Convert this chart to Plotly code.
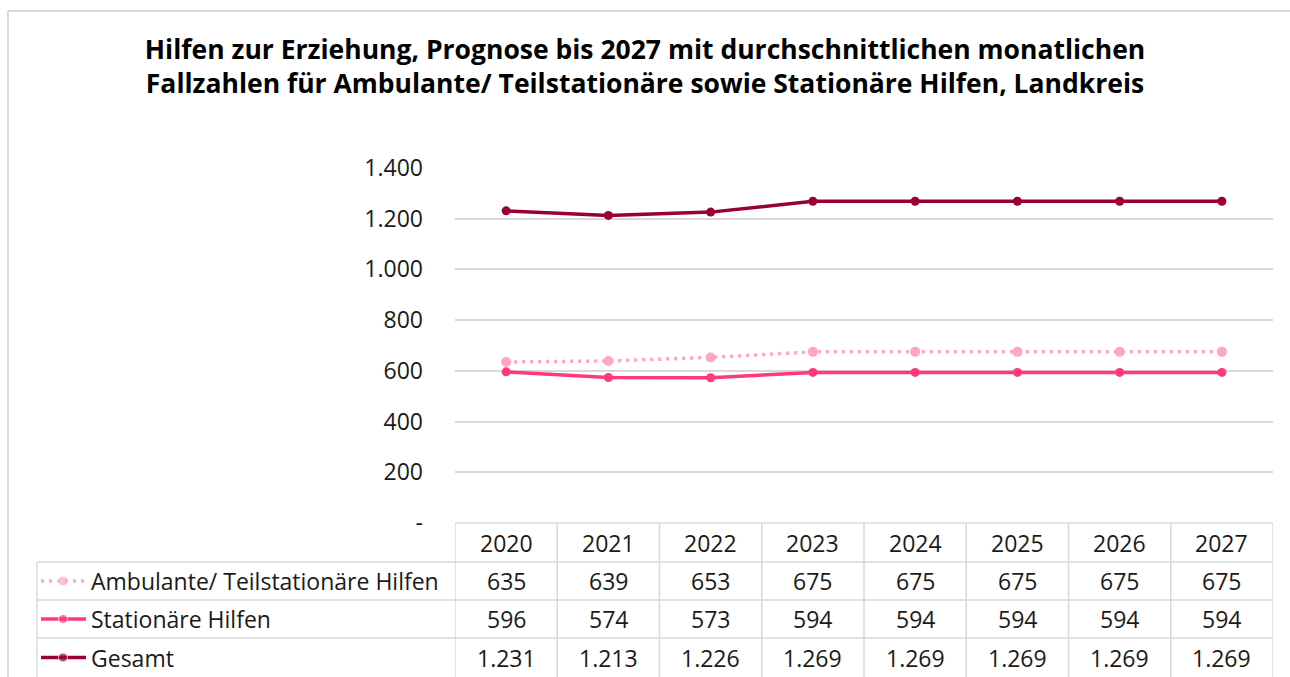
import plotly.graph_objects as go

# ---------------- data ----------------
years = ["2020", "2021", "2022", "2023", "2024", "2025", "2026", "2027"]
ambulante = [635, 639, 653, 675, 675, 675, 675, 675]
stationaer = [596, 574, 573, 594, 594, 594, 594, 594]
gesamt = [1231, 1213, 1226, 1269, 1269, 1269, 1269, 1269]
series_names = ["Ambulante/ Teilstationäre Hilfen", "Stationäre Hilfen", "Gesamt"]
y_tickvals = [0, 200, 400, 600, 800, 1000, 1200, 1400]
y_ticktext = ["-", "200", "400", "600", "800", "1.000", "1.200", "1.400"]
title_lines = ["Hilfen zur Erziehung, Prognose bis 2027 mit durchschnittlichen monatlichen",
               "Fallzahlen für Ambulante/ Teilstationäre sowie Stationäre Hilfen, Landkreis"]

# ---------------- layout constants ----------------
W, H = 1290, 677
FONT = "Open Sans"
GRID = "#D9D9D9"
TXT = "#1a1a1a"
FS = 23
PLOT_L, PLOT_R, PLOT_T, PLOT_B = 455, 1273, 168, 523
TABLE_ROWS = [523, 562, 600, 638, 677]  # horizontal boundaries (px)
LEGEND_L = 37
FRAME_X, FRAME_Y = 8, 11

styles = [
    dict(color="#FFA6C4", dash="3px,5px", msize=10, width=3.5),
    dict(color="#FF3A7C", dash="solid", msize=9, width=3.5),
    dict(color="#990033", dash="solid", msize=9, width=3.5),
]
values = [ambulante, stationaer, gesamt]


def fmt(v):
    return f"{v:,}".replace(",", ".")


fig = go.Figure()

# main lines
for name, vals, st in zip(series_names, values, styles):
    fig.add_trace(go.Scatter(
        x=years, y=vals, name=name, mode="lines+markers",
        line=dict(color=st["color"], width=st["width"], dash=st["dash"]),
        marker=dict(color=st["color"], size=st["msize"]),
        xaxis="x", yaxis="y", showlegend=False, cliponaxis=False,
    ))

# legend keys in the data table (pixel overlay axes)
for i, st in enumerate(styles):
    rc = (TABLE_ROWS[i + 1] + TABLE_ROWS[i + 2]) / 2
    fig.add_trace(go.Scatter(
        x=[41, 63, 86], y=[rc, rc, rc], mode="lines+markers",
        line=dict(color=st["color"], width=st["width"], dash=st["dash"]),
        marker=dict(color=st["color"], size=[0, st["msize"], 0]),
        xaxis="x2", yaxis="y2", showlegend=False, hoverinfo="skip",
    ))

shapes = []
# table vertical lines
for k in range(len(years) + 1):
    shapes.append(dict(type="line", xref="x", yref="y2", x0=k - 0.5, x1=k - 0.5,
                       y0=TABLE_ROWS[0], y1=TABLE_ROWS[-1], line=dict(color=GRID, width=1.5)))
# legend column left border
shapes.append(dict(type="line", xref="x2", yref="y2", x0=LEGEND_L, x1=LEGEND_L,
                   y0=TABLE_ROWS[1], y1=TABLE_ROWS[-1], line=dict(color=GRID, width=1.5)))
# table horizontal lines
shapes.append(dict(type="line", xref="x2", yref="y2", x0=PLOT_L, x1=PLOT_R,
                   y0=TABLE_ROWS[0], y1=TABLE_ROWS[0], line=dict(color=GRID, width=1.5)))
for r in TABLE_ROWS[1:-1]:
    shapes.append(dict(type="line", xref="x2", yref="y2", x0=LEGEND_L, x1=PLOT_R,
                       y0=r, y1=r, line=dict(color=GRID, width=1.5)))
# chart area frame (top + left)
shapes.append(dict(type="line", xref="x2", yref="y2", x0=FRAME_X, x1=W, y0=FRAME_Y, y1=FRAME_Y,
                   line=dict(color=GRID, width=2)))
shapes.append(dict(type="line", xref="x2", yref="y2", x0=FRAME_X, x1=FRAME_X, y0=FRAME_Y, y1=H,
                   line=dict(color=GRID, width=2)))

annotations = []
# header years
hc = (TABLE_ROWS[0] + TABLE_ROWS[1]) / 2
for j, yr in enumerate(years):
    annotations.append(dict(x=j, y=hc, xref="x", yref="y2", text=yr, showarrow=False,
                            font=dict(size=FS, color=TXT, family=FONT)))
# rows
for i, (name, vals) in enumerate(zip(series_names, values)):
    rc = (TABLE_ROWS[i + 1] + TABLE_ROWS[i + 2]) / 2
    annotations.append(dict(x=89, y=rc, xref="x2", yref="y2", text=name, showarrow=False,
                            xanchor="left", font=dict(size=FS, color=TXT, family=FONT)))
    for j, v in enumerate(vals):
        annotations.append(dict(x=j, y=rc, xref="x", yref="y2", text=fmt(v), showarrow=False,
                                font=dict(size=FS, color=TXT, family=FONT)))

fig.update_layout(
    width=W, height=H, autosize=False,
    margin=dict(l=0, r=0, t=0, b=0, pad=0),
    paper_bgcolor="white", plot_bgcolor="rgba(0,0,0,0)",
    title=dict(text="<b>" + "<br>".join(title_lines) + "</b>",
               x=0.5, xanchor="center", y=1 - 59 / H, yanchor="middle",
               font=dict(family=FONT, size=26.5, color="#000")),
    xaxis=dict(domain=[PLOT_L / W, PLOT_R / W], type="category", range=[-0.5, len(years) - 0.5],
               showgrid=False, showticklabels=False, showline=False, zeroline=False,
               fixedrange=True, automargin=False),
    yaxis=dict(domain=[1 - PLOT_B / H, 1 - PLOT_T / H], range=[0, 1400],
               tickvals=y_tickvals, ticktext=y_ticktext, showgrid=True, gridcolor=GRID,
               gridwidth=1.5, zeroline=False, showline=False, ticks="", automargin=False,
               ticklabelstandoff=31, tickfont=dict(family=FONT, size=FS, color=TXT),
               fixedrange=True),
    xaxis2=dict(domain=[0, 1], range=[0, W], visible=False, anchor="y2", fixedrange=True),
    yaxis2=dict(domain=[0, 1], range=[H, 0], visible=False, anchor="x2", fixedrange=True),
    shapes=shapes, annotations=annotations,
)

fig.write_html("out.html", config={"displayModeBar": False},
               post_script="document.body.style.margin='0';")
